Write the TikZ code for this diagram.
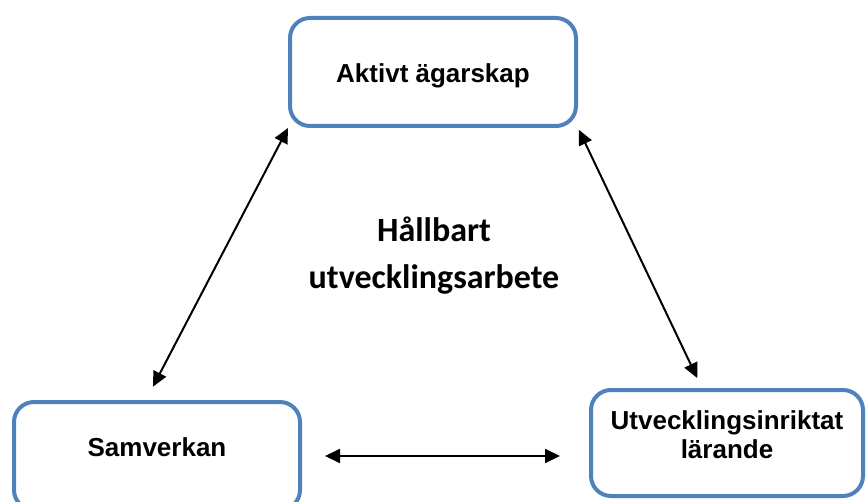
\documentclass[tikz,border=0pt]{standalone}
\usepackage{fontspec}
\setmainfont{Liberation Sans}
\newfontfamily\calibri{Carlito}
\usetikzlibrary{arrows.meta,positioning}
\definecolor{frame}{HTML}{4F81BD}
\tikzset{
  box/.style={draw=frame, line width=4pt, rounded corners=20pt, fill=white, align=center, font=\fontsize{26}{29}\selectfont\bfseries, inner sep=0pt},
  link/.style={{Triangle[length=15pt,width=14pt]}-{Triangle[length=15pt,width=14pt]}, line width=2pt, draw=black},
  title/.style={font=\calibri\fontsize{34}{47}\selectfont\bfseries, align=center}
}
\begin{document}
\begin{tikzpicture}[x=1pt,y=-1pt]
\useasboundingbox (0,0) rectangle (867,502);
\node[box, minimum width=286pt, minimum height=108pt, text height=27pt] (owner) at (433,72) {Aktivt ägarskap};
\node[box, minimum width=286pt, minimum height=108pt, text depth=18pt] (coop) at (157,456) {Samverkan};
\node[box, minimum width=272pt, minimum height=106pt, text height=32pt] (learn) at (727,443) {Utvecklingsinriktat\\lärande};
\node[title] (core) at (434,256) {Hållbart\\utvecklingsarbete};
\draw[link] (owner.south west) -- ([xshift=-11pt]coop.north) [shorten >=15pt];
\draw[link, shorten <=2pt, shorten >=11pt] (owner.south east) -- ([xshift=-25pt]learn.north);
\draw[link, shorten <=23pt, shorten >=29pt] (coop.east) -- (coop.east -| learn.west);
\end{tikzpicture}
\end{document}
